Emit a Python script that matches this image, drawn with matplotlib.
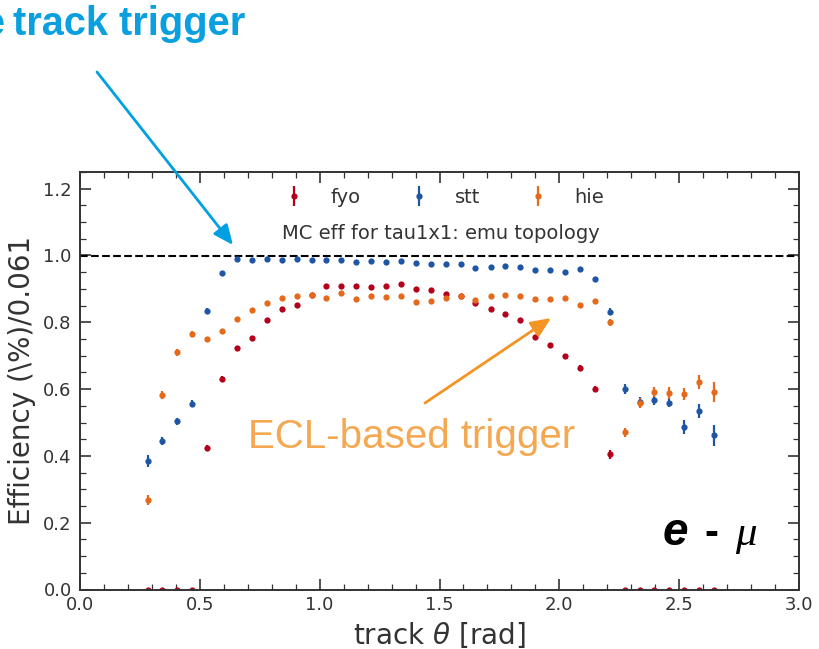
import numpy as np
import matplotlib
matplotlib.use('Agg')
from matplotlib import pyplot as plt
from matplotlib.ticker import MultipleLocator, FormatStrFormatter

# bin centres in track theta [rad]
theta = [0.282, 0.344, 0.406, 0.469, 0.531, 0.593, 0.655, 0.717, 0.780, 0.842,
         0.904, 0.966, 1.028, 1.091, 1.153, 1.215, 1.277, 1.339, 1.402, 1.464,
         1.526, 1.588, 1.650, 1.713, 1.775, 1.837, 1.899, 1.961, 2.024, 2.086,
         2.148, 2.210, 2.272, 2.335, 2.397, 2.459, 2.521, 2.583, 2.646]

fyo = [0.0, 0.0, 0.0, 0.0, 0.425, 0.631, 0.724, 0.752, 0.806, 0.841,
       0.852, 0.882, 0.908, 0.908, 0.908, 0.907, 0.910, 0.914, 0.901, 0.898,
       0.886, 0.880, 0.858, 0.841, 0.824, 0.808, 0.756, 0.733, 0.698, 0.664,
       0.601, 0.405, 0.0, 0.0, 0.0, 0.0, 0.0, 0.0, 0.0]
fyo_err = [0.0, 0.0, 0.0, 0.0, 0.008, 0.008, 0.006, 0.006, 0.005, 0.005,
           0.005, 0.004, 0.004, 0.004, 0.004, 0.004, 0.004, 0.004, 0.004, 0.004,
           0.004, 0.004, 0.005, 0.005, 0.005, 0.005, 0.006, 0.006, 0.006, 0.007,
           0.008, 0.013, 0.0, 0.0, 0.0, 0.0, 0.0, 0.0, 0.0]

stt = [0.384, 0.445, 0.503, 0.556, 0.835, 0.948, 0.991, 0.988, 0.991, 0.988,
       0.991, 0.986, 0.986, 0.986, 0.982, 0.985, 0.981, 0.983, 0.979, 0.974,
       0.974, 0.976, 0.964, 0.965, 0.968, 0.965, 0.958, 0.957, 0.952, 0.961,
       0.930, 0.832, 0.601, 0.562, 0.566, 0.559, 0.486, 0.534, 0.462]
stt_err = [0.018, 0.012, 0.011, 0.010, 0.008, 0.006, 0.004, 0.004, 0.004, 0.004,
           0.004, 0.004, 0.004, 0.004, 0.004, 0.004, 0.004, 0.004, 0.004, 0.004,
           0.004, 0.004, 0.004, 0.004, 0.004, 0.004, 0.004, 0.004, 0.004, 0.004,
           0.006, 0.010, 0.015, 0.015, 0.013, 0.014, 0.020, 0.020, 0.032]

hie = [0.269, 0.581, 0.710, 0.766, 0.749, 0.775, 0.811, 0.836, 0.857, 0.874,
       0.878, 0.883, 0.872, 0.887, 0.869, 0.878, 0.877, 0.880, 0.860, 0.865,
       0.874, 0.880, 0.866, 0.879, 0.882, 0.879, 0.869, 0.869, 0.872, 0.852,
       0.865, 0.800, 0.471, 0.559, 0.591, 0.588, 0.586, 0.621, 0.591]
hie_err = [0.015, 0.012, 0.010, 0.009, 0.007, 0.006, 0.005, 0.005, 0.005, 0.005,
           0.005, 0.005, 0.005, 0.005, 0.005, 0.005, 0.005, 0.005, 0.005, 0.005,
           0.005, 0.005, 0.005, 0.005, 0.005, 0.005, 0.005, 0.005, 0.005, 0.005,
           0.006, 0.010, 0.014, 0.015, 0.016, 0.017, 0.018, 0.021, 0.030]

RED = '#b3001b'
BLUE = '#1f55a5'
ORANGE = '#e4691a'
GREY = '#333333'

W, H = 819, 649


def fig_frac(x, y):
    # image pixel (origin top-left) -> figure fraction
    return x / W, 1 - y / H


fig = plt.figure(figsize=(W / 100, H / 100), dpi=100)
ax = fig.add_axes([80 / W, 1 - 589.5 / H, (799 - 80) / W, (589.5 - 172) / H])

for vals, errs, col, name in [(fyo, fyo_err, RED, 'fyo'),
                              (stt, stt_err, BLUE, 'stt'),
                              (hie, hie_err, ORANGE, 'hie')]:
  ax.errorbar(theta, vals, yerr=errs, fmt='o', color=col, ms=4.5, mew=0,
              elinewidth=1.6, capsize=0, label=name)

ax.axhline(1.0, color='k', ls='--', lw=1.5)

ax.set_xlim(0, 3.0)
ax.set_ylim(0, 1.25)
ax.xaxis.set_major_locator(MultipleLocator(0.5))
ax.xaxis.set_minor_locator(MultipleLocator(0.1))
ax.yaxis.set_major_locator(MultipleLocator(0.2))
ax.yaxis.set_minor_locator(MultipleLocator(0.05))
ax.xaxis.set_major_formatter(FormatStrFormatter('%.1f'))
ax.yaxis.set_major_formatter(FormatStrFormatter('%.1f'))
ax.tick_params(which='both', direction='in', top=True, right=True,
               colors=GREY, labelsize=13)
ax.tick_params(which='major', length=8, width=1.2)
ax.tick_params(axis='x', which='major', pad=5)
ax.tick_params(axis='y', which='major', pad=6)
ax.tick_params(which='minor', length=4, width=0.9)
for sp in ax.spines.values():
  sp.set_color(GREY)
  sp.set_linewidth(1.4)

ax.set_xlabel(r'track $\theta$ [rad]', fontsize=20, color=GREY, labelpad=4)
ax.set_ylabel('Efficiency (\\%)/0.061', fontsize=20, color=GREY, labelpad=5)

ax.legend(loc='center', bbox_to_anchor=(0.5, 1.174 / 1.25), ncol=3,
          frameon=False, numpoints=1, fontsize=14, handletextpad=0.85,
          columnspacing=2.0, labelcolor=GREY)
ax.text(1.506, 1.066, 'MC eff for tau1x1: emu topology', ha='center',
        va='center', fontsize=14, color=GREY)

# callouts
fig.text(*fig_frac(5, 35), 'e', ha='right', va='baseline',
         fontsize=28.5, fontweight='bold', color='#0aa0e0',
         family='Liberation Sans')
fig.text(*fig_frac(13, 35), 'track trigger', ha='left', va='baseline',
         fontsize=28.6, fontweight='bold', color='#0aa0e0',
         family='Liberation Sans')
ax.annotate('', xy=(233, H - 245), xytext=(97, H - 72),
            xycoords='figure pixels', textcoords='figure pixels',
            annotation_clip=False,
            arrowprops=dict(arrowstyle='-|>,head_length=0.8,head_width=0.35',
                            color='#00a0e2', lw=2, mutation_scale=15,
                            shrinkA=0, shrinkB=0))

fig.text(*fig_frac(248, 448.5), 'ECL-based trigger', ha='left',
         va='baseline', fontsize=29, color='#f5a852',
         family='Liberation Sans')
ax.annotate('', xy=(551, H - 318), xytext=(425, H - 403),
            xycoords='figure pixels', textcoords='figure pixels',
            annotation_clip=False,
            arrowprops=dict(arrowstyle='-|>,head_length=0.8,head_width=0.35',
                            color='#f39425', lw=2, mutation_scale=15,
                            shrinkA=0, shrinkB=0))

fig.text(*fig_frac(663, 545), 'e', ha='left', va='baseline', fontsize=33,
         fontweight='bold', style='italic', color='k',
         family='Liberation Sans')
fig.text(*fig_frac(704, 545), '-', ha='left', va='baseline', fontsize=30,
         fontweight='bold', color='k', family='Liberation Sans')
fig.text(*fig_frac(735, 545), 'μ', ha='left', va='baseline', fontsize=31,
         style='italic', color='k', family='Liberation Serif')

fig.savefig('out.png', dpi=100)
